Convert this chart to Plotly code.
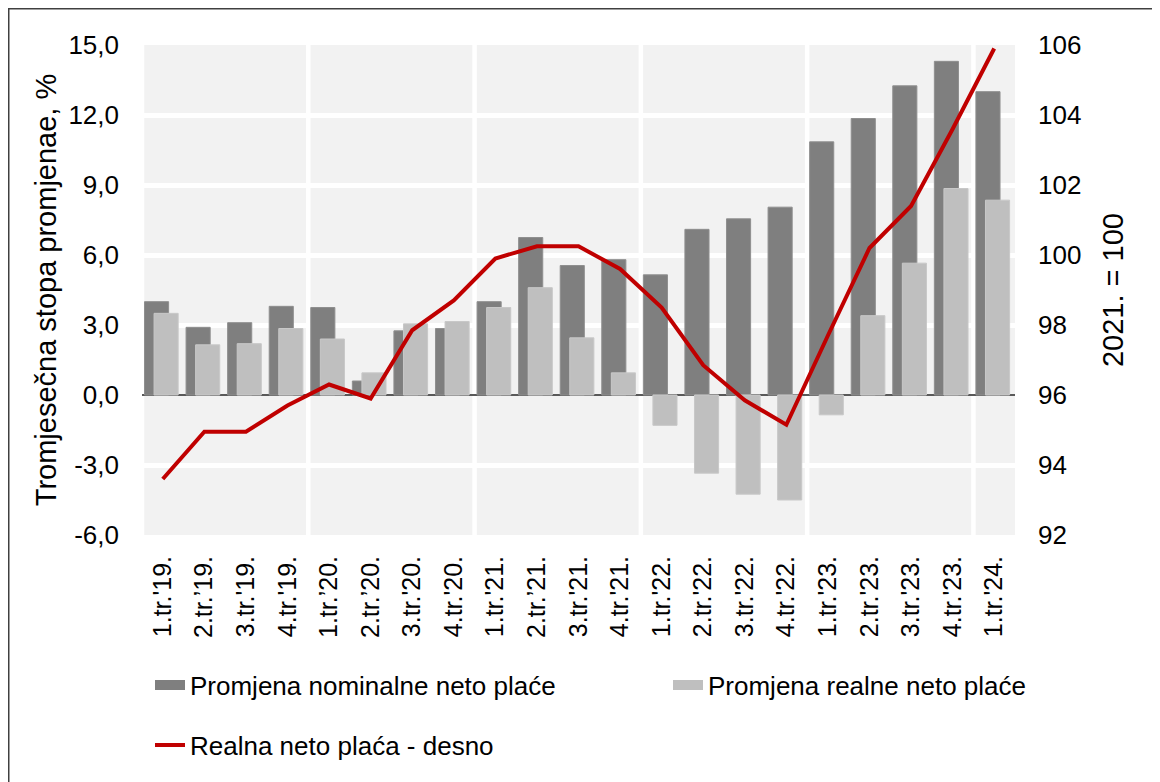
import plotly.graph_objects as go

# ---------------- data ----------------
categories = ["1.tr.'19.", "2.tr.’19.", "3.tr.'19.", "4.tr.'19.",
              "1.tr.’20.", "2.tr.’20.", "3.tr.'20.", "4.tr.'20.",
              "1.tr.'21.", "2.tr.’21.", "3.tr.'21.", "4.tr.'21.",
              "1.tr.'22.", "2.tr.'22.", "3.tr.'22.", "4.tr.'22.",
              "1.tr.'23.", "2.tr.'23.", "3.tr.'23.", "4.tr.'23.",
              "1.tr.'24."]
nominal_change = [4.0, 2.9, 3.1, 3.8, 3.75, 0.6, 2.75, 2.85, 4.0, 6.75, 5.55,
                  5.8, 5.15, 7.1, 7.55, 8.05, 10.85, 11.85, 13.25, 14.3, 13.0]
real_change = [3.5, 2.15, 2.2, 2.85, 2.4, 0.95, 3.05, 3.15, 3.75, 4.6, 2.45,
               0.95, -1.3, -3.35, -4.25, -4.5, -0.85, 3.4, 5.65, 8.85, 8.35]
real_wage_index = [93.6, 94.95, 94.95, 95.7, 96.3, 95.9, 97.85, 98.7, 99.9,
                   100.25, 100.25, 99.6, 98.5, 96.85, 95.85, 95.15, 97.7,
                   100.2, 101.4, 103.6, 105.9]
left_tickvals = [-6, -3, 0, 3, 6, 9, 12, 15]
left_ticktext = ["-6,0", "-3,0", "0,0", "3,0", "6,0", "9,0", "12,0", "15,0"]
right_tickvals = [92, 94, 96, 98, 100, 102, 104, 106]

names = ["Promjena nominalne neto plaće", "Promjena realne neto plaće",
         "Realna neto plaća - desno"]
left_title = "Tromjesečna stopa promjenae, %"
right_title = "2021. = 100"

# ---------------- style ----------------
FONT = "Liberation Sans, Arial, sans-serif"
C_NOM = "#7f7f7f"
C_REAL = "#bfbfbf"
C_LINE = "#c00000"
OFF = 8                      # page body margin of the browser
W, H = 1160 - OFF, 782 - OFF
PLOT_L, PLOT_R, PLOT_T, PLOT_B = 142, 1015, 45, 535   # screen px
ML, MT = PLOT_L - OFF, PLOT_T - OFF
MR, MB = W - (PLOT_R - OFF), H - (PLOT_B - OFF)
PW, PH = W - ML - MR, H - MT - MB


def px_x(sx):
    return (sx - OFF - ML) / PW


def px_y(sy):
    return (H - MB - (sy - OFF)) / PH


fig = go.Figure()

fig.add_trace(go.Bar(
    x=categories, y=nominal_change, name=names[0], marker_color=C_NOM,
    marker_line=dict(width=1, color="#8f8f8f"),
    offset=-0.44, width=0.58, showlegend=False, legendgroup="nom"))
fig.add_trace(go.Bar(
    x=categories, y=real_change, name=names[1], marker_color=C_REAL,
    marker_line=dict(width=1, color="#c8c8c8"),
    offset=-0.21, width=0.58, showlegend=False, legendgroup="real"))
fig.add_trace(go.Scatter(
    x=categories, y=real_wage_index, name=names[2], yaxis="y2",
    mode="lines", line=dict(color=C_LINE, width=4), legend="legend3"))

# legend entries (wide swatches like the original)
fig.add_trace(go.Scatter(x=[None], y=[None], mode="lines", name=names[0],
                         line=dict(color=C_NOM, width=14), legendgroup="nom",
                         legend="legend"))
fig.add_trace(go.Scatter(x=[None], y=[None], mode="lines", name=names[1],
                         line=dict(color=C_REAL, width=14), legendgroup="real",
                         legend="legend2"))

# year separators (vertical white grid lines between years)
year_starts = [i for i, c in enumerate(categories) if c.startswith("1.tr.")]
shapes = []
for i in year_starts:
    shapes.append(dict(type="line", xref="x", yref="paper", x0=i - 0.5,
                       x1=i - 0.5, y0=0, y1=1, layer="below",
                       line=dict(color="white", width=4.5)))
# outer frame of the figure (top and left edges visible)
shapes.append(dict(type="rect", xref="paper", yref="paper",
                   x0=px_x(OFF + 0.75), x1=px_x(1200), y0=px_y(830),
                   y1=px_y(OFF + 0.75),
                   line=dict(color="#404040", width=1.5), layer="above"))


def legend_at(sx, sy):
    return dict(orientation="h", x=px_x(sx), xanchor="left",
                y=px_y(sy), yanchor="middle", font=dict(size=26),
                bgcolor="rgba(0,0,0,0)", itemclick=False, borderwidth=0)


fig.update_layout(
    width=W, height=H,
    margin=dict(l=ML, r=MR, t=MT, b=MB, pad=0, autoexpand=False),
    paper_bgcolor="white", plot_bgcolor="#f2f2f2",
    font=dict(family=FONT, size=26, color="black"),
    barmode="overlay",
    shapes=shapes,
    xaxis=dict(type="category", range=[-0.5, len(categories) - 0.5],
               showgrid=False, zeroline=False, showline=False,
               tickangle=-90, tickfont=dict(size=25), ticks="",
               ticklabelstandoff=15, fixedrange=True, automargin=False),
    yaxis=dict(range=[-6, 15], tickvals=left_tickvals, ticktext=left_ticktext,
               showgrid=True, gridcolor="white", gridwidth=4.5,
               zeroline=True, zerolinecolor="#595959", zerolinewidth=2.2,
               showline=False, ticks="", ticklabelstandoff=22,
               tickfont=dict(size=26), automargin=False,
               title=dict(text=left_title, font=dict(size=29), standoff=3)),
    yaxis2=dict(range=[92, 106], tickvals=right_tickvals, overlaying="y",
                side="right", showgrid=False, zeroline=False, showline=False,
                ticks="", ticklabelstandoff=22, tickfont=dict(size=26),
                automargin=False,
                title=dict(text=right_title, font=dict(size=29), standoff=22)),
    legend=legend_at(150, 685),
    legend2=legend_at(668, 685),
    legend3=legend_at(150, 745),
)

fig.write_html("out.html")
